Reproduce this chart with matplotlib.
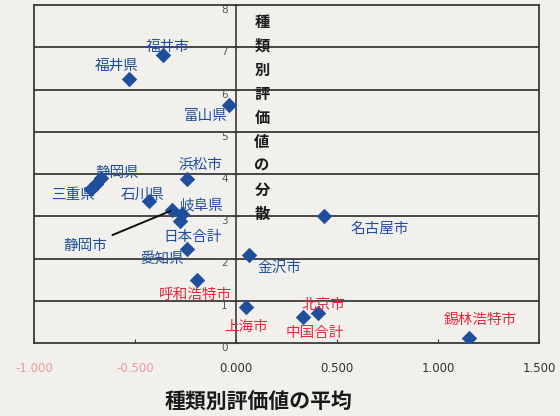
import matplotlib
matplotlib.use("Agg")
import matplotlib.pyplot as plt
from matplotlib.lines import Line2D

plt.rcParams['font.family'] = ['Noto Sans CJK JP', 'DejaVu Sans']

# ---- data ----
names = ["福井市", "福井県", "富山県", "浜松市", "静岡県", "", "三重県", "石川県",
         "静岡市", "岐阜県", "日本合計", "愛知県", "金沢市", "名古屋市",
         "呼和浩特市", "上海市", "北京市", "中国合計", "錫林浩特市"]
mean_vals = [-0.361, -0.530, -0.035, -0.243, -0.668, -0.693, -0.718, -0.431,
             -0.317, -0.267, -0.277, -0.243, 0.064, 0.436,
             -0.193, 0.050, 0.408, 0.332, 1.153]
var_vals = [6.81, 6.24, 5.63, 3.88, 3.90, 3.76, 3.64, 3.36,
            3.14, 3.05, 2.88, 2.22, 2.08, 3.00,
            1.49, 0.85, 0.71, 0.61, 0.12]
is_china = [False] * 14 + [True] * 5
xticks = [-1.0, -0.5, 0.0, 0.5, 1.0, 1.5]
yticks = [0, 1, 2, 3, 4, 5, 6, 7, 8]
ylabel_text = "種類別評価値の分散"
xlabel_text = "種類別評価値の平均"

# label offsets (points) relative to each point
offsets = [(3.6, 5.8), (-8.6, 9.4), (-17, -8), (9.4, 10), (12, 3.6), None, (-13, -4.3),
           (-4.3, 4.3), (-62.6, -26), (14.4, 6.5), (9.4, -11.5), (-18, -7.2),
           (22, -9.4), (40, -8.6), (-1, -10.5), (0, -14.4), (3.6, 5.8), (8.6, -11.5), (8, 13)]

bg = '#f1f0ec'
blue = '#1f4f9c'
red = '#e8283a'
linec = '#3a3a3a'

fig = plt.figure(figsize=(5.6, 4.16), dpi=100, facecolor=bg)
ax = fig.add_axes([34/560, 1-343/416, 505/560, 338/416], facecolor=bg)
ax.set_xlim(-1.0, 1.5)
ax.set_ylim(0, 8)

for v in yticks[1:-1]:
    ax.axhline(v, color=linec, lw=1.3, zorder=1)

ax.scatter(mean_vals, var_vals, marker='D', s=62, color=blue, zorder=3, linewidths=0)

for n, x, y, ch, off in zip(names, mean_vals, var_vals, is_china, offsets):
    if not n or off is None:
        continue
    col = red if ch else blue
    if n == "静岡市":
        ax.annotate(n, (x, y), xytext=off, textcoords='offset points', ha='center', va='center',
                    fontsize=10.5, color=col, zorder=4,
                    arrowprops=dict(arrowstyle='-', color='#111111', lw=1.4, shrinkA=3, shrinkB=1))
    else:
        ax.annotate(n, (x, y), xytext=off, textcoords='offset points', ha='center', va='center',
                    fontsize=10.5, color=col, zorder=4)

# spines
for s in ['top', 'right', 'bottom']:
    ax.spines[s].set_color(linec)
    ax.spines[s].set_linewidth(1.3)
ax.spines['left'].set_position(('data', 0))
ax.spines['left'].set_color(linec)
ax.spines['left'].set_linewidth(1.2)
ax.add_line(Line2D([0, 0], [0, 1], transform=ax.transAxes, color=linec, lw=1.3, clip_on=False))

ax.set_yticks(yticks)
ax.set_yticklabels([str(v) for v in yticks], va='top', fontsize=7.5, color='#555555',
                   family='DejaVu Sans')
ax.tick_params(axis='y', direction='inout', length=4, pad=4, color=linec)

ax.set_xticks(xticks)
ax.set_xticklabels(["%.3f" % v for v in xticks], fontsize=8.5, family='DejaVu Sans')
for lbl, v in zip(ax.get_xticklabels(), xticks):
    lbl.set_color('#ef9a9a' if v < 0 else '#333333')
ax.tick_params(axis='x', direction='in', length=3, pad=14, color=linec)

# vertical y-axis title
for i, ch in enumerate(ylabel_text):
    fig.text(262/560, 1 - (22 + i*24.0)/416, ch, ha='center', va='center',
             fontsize=11, fontweight='bold', color='#1a1a1a')

fig.text(259/560, 1 - 402/416, xlabel_text, ha='center', va='center',
         fontsize=15, fontweight='bold', color='#1a1a1a')

fig.savefig('out.png', dpi=100, facecolor=bg)
